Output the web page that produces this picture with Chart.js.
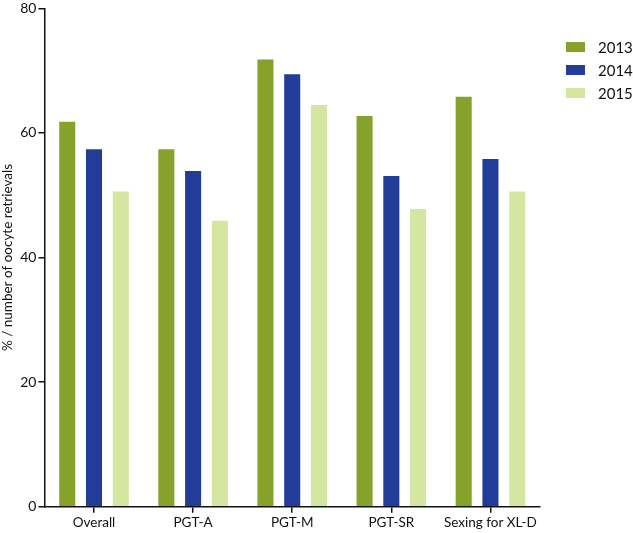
<!DOCTYPE html>
<html>
<head>
<meta charset="utf-8">
<script src="https://cdn.jsdelivr.net/npm/chart.js@4/dist/chart.umd.min.js"></script>
<style>
  html, body { margin: 0; padding: 0; background: #fff; }
  #wrap { width: 633px; height: 533px; }
</style>
</head>
<body>
<div id="wrap"><canvas id="myChart" width="633" height="533"></canvas></div>
<script>
// categories and values
var categories = ["Overall", "PGT-A", "PGT-M", "PGT-SR", "Sexing for XL-D"];
var years = ["2013", "2014", "2015"];
var values2013 = [61.8, 57.4, 71.8, 62.7, 65.8];
var values2014 = [57.4, 53.9, 69.4, 53.1, 55.8];
var values2015 = [50.6, 45.9, 64.5, 47.8, 50.6];
var yTicks = [0, 20, 40, 60, 80];

var colors = ["#86a22b", "#213d99", "#d5e6a0"];
var series = [values2013, values2014, values2015];

var datasets = [];
for (var i = 0; i < years.length; i++) {
  datasets.push({
    label: years[i],
    data: series[i],
    backgroundColor: colors[i],
    borderWidth: 0,
    categoryPercentage: 0.81,
    barPercentage: 0.6
  });
}

var font = "Lato, 'Open Sans', sans-serif";

// legend drawn to the right of the plot, like the original
var sideLegend = {
  id: 'sideLegend',
  afterDraw: function(chart) {
    var c = chart.ctx;
    var area = chart.chartArea;
    c.save();
    c.font = "15px " + font;
    c.textBaseline = 'middle';
    c.textAlign = 'left';
    chart.data.datasets.forEach(function(ds, i) {
      var y = 47 + i * 23;
      var x = area.right + 26;
      c.fillStyle = ds.backgroundColor;
      c.fillRect(x, y - 5, 19, 10);
      c.fillStyle = '#111';
      c.fillText(ds.label, x + 32, y + 1);
    });
    c.restore();
  }
};

var ctx = document.getElementById("myChart");
var myChart = new Chart(ctx, {
  type: 'bar',
  data: { labels: categories, datasets: datasets },
  plugins: [sideLegend],
  options: {
    responsive: false,
    animation: false,
    layout: { padding: { left: 0, right: 93, top: 0, bottom: 0 } },
    plugins: {
      tooltip: { enabled: false },
      legend: { display: false }
    },
    scales: {
      x: {
        grid: { display: true, drawOnChartArea: false, offset: false, color: '#111', lineWidth: 1.5, tickLength: 6 },
        border: { color: '#111', width: 1.5 },
        ticks: { color: '#111', font: { family: font, size: 13.5 }, padding: 2 }
      },
      y: {
        min: 0,
        max: 80,
        afterBuildTicks: function(axis) {
          axis.ticks = yTicks.map(function(v) { return { value: v }; });
        },
        grid: { display: true, drawOnChartArea: false, color: '#111', lineWidth: 1.5, tickLength: 6 },
        border: { color: '#111', width: 1.5 },
        ticks: { color: '#111', font: { family: font, size: 14, lineHeight: 0.9 }, padding: 2 },
        title: {
          display: true,
          text: '% / number of oocyte retrievals',
          color: '#111',
          font: { family: font, size: 13.5 },
          padding: { top: 0, bottom: 2 }
        }
      }
    }
  }
});
</script>
</body>
</html>
